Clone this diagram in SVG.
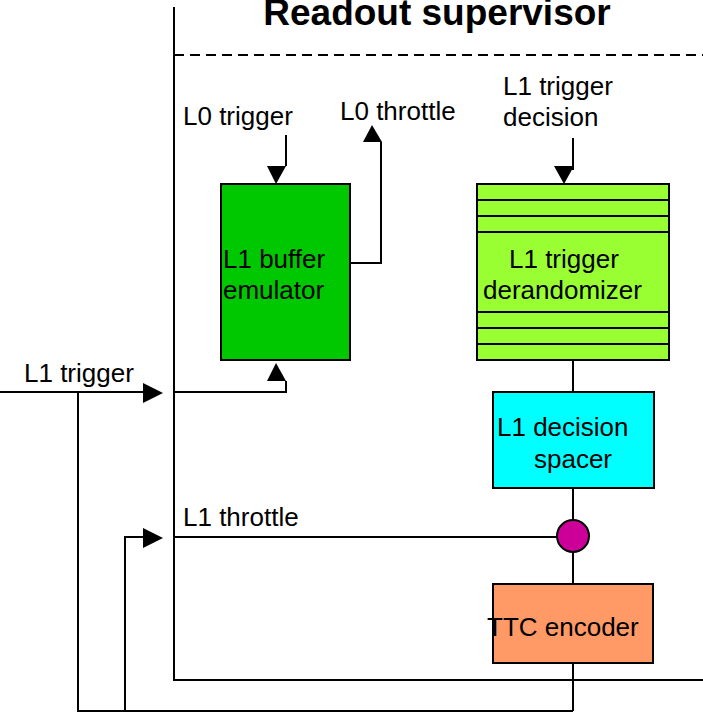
<svg xmlns="http://www.w3.org/2000/svg" width="703" height="712" viewBox="0 0 703 712">
<style>
text{font-family:"Liberation Sans",Arial,sans-serif;font-size:26px;fill:#000}
.ln{stroke:#000;stroke-width:2;fill:none}
.box{stroke:#000;stroke-width:2}
.ah{fill:#000;stroke:none}
</style>
<rect width="703" height="712" fill="#fff"/>
<g id="frame">
<text x="437" y="25" text-anchor="middle" style="font-weight:bold;font-size:37px">Readout supervisor</text>
<line class="ln" x1="174" y1="7" x2="174" y2="681"/>
<line class="ln" x1="173" y1="680" x2="703" y2="680"/>
<line class="ln" x1="174" y1="55" x2="703" y2="55" stroke-dasharray="10,6"/>
</g>
<g id="connectors">
<polyline class="ln" points="286,135 286,166"/>
<polygon class="ah" points="267,166 286,166 276,184"/>
<polyline class="ln" points="350,263 381,263 381,142"/>
<polygon class="ah" points="363,142 382,142 372,125"/>
<polyline class="ln" points="573,138 573,170"/>
<polygon class="ah" points="554,166 574,166 564,184"/>
<polyline class="ln" points="174,392 286,392 286,381"/>
<polygon class="ah" points="267,381 286,381 276,363"/>
<line class="ln" x1="0" y1="392" x2="145" y2="392"/>
<polygon class="ah" points="143,383 143,403 163,393"/>
<polyline class="ln" points="78,392 78,711 573,711"/>
<polyline class="ln" points="125,711 125,537 145,537"/>
<polygon class="ah" points="143,528 143,548 163,538"/>
<line class="ln" x1="573" y1="360" x2="573" y2="392"/>
<line class="ln" x1="573" y1="488" x2="573" y2="520"/>
<line class="ln" x1="573" y1="552" x2="573" y2="584"/>
<line class="ln" x1="573" y1="663" x2="573" y2="711"/>
<line class="ln" x1="174" y1="537" x2="557" y2="537"/>
<text x="24" y="382">L1 trigger</text>
<text x="183" y="526">L1 throttle</text>
<text x="183" y="125">L0 trigger</text>
<text x="340" y="120">L0 throttle</text>
<text x="503" y="95">L1 trigger</text>
<text x="503" y="126">decision</text>
</g>
<g id="buffer-emulator">
<rect class="box" x="221" y="184" width="129" height="176" fill="#00C800"/>
<text x="223" y="268">L1 buffer</text>
<text x="223" y="299">emulator</text>
</g>
<g id="derandomizer">
<rect class="box" x="477" y="184" width="192" height="176" fill="#99FF33"/>
<line class="ln" x1="477" y1="200" x2="669" y2="200"/>
<line class="ln" x1="477" y1="216" x2="669" y2="216"/>
<line class="ln" x1="477" y1="232" x2="669" y2="232"/>
<line class="ln" x1="477" y1="312" x2="669" y2="312"/>
<line class="ln" x1="477" y1="328" x2="669" y2="328"/>
<line class="ln" x1="477" y1="344" x2="669" y2="344"/>
<text x="509" y="268">L1 trigger</text>
<text x="483" y="299">derandomizer</text>
</g>
<g id="decision-spacer">
<rect class="box" x="493" y="392" width="161" height="96" fill="#00FFFF"/>
<text x="497" y="436">L1 decision</text>
<text x="573" y="468" text-anchor="middle">spacer</text>
</g>
<g id="merge">
<circle class="box" cx="573" cy="536" r="16" fill="#CC0099"/>
</g>
<g id="ttc-encoder">
<rect class="box" x="493" y="584" width="160" height="79" fill="#FF9966"/>
<text x="487" y="636">TTC encoder</text>
</g>
</svg>
